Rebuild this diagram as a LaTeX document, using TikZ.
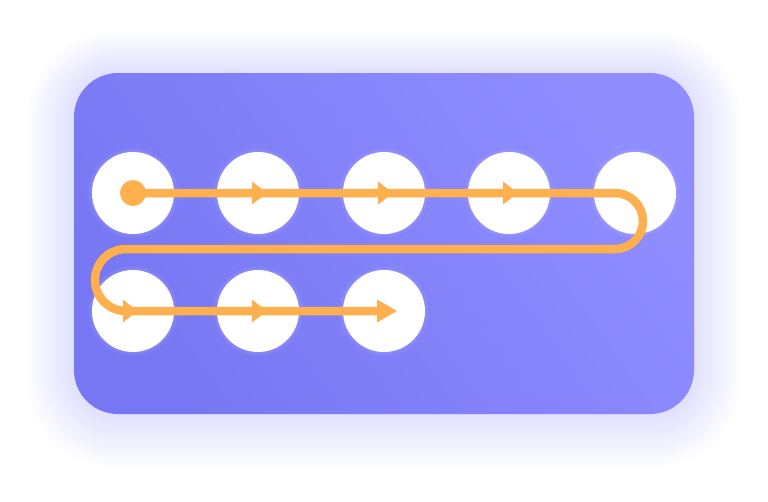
\documentclass[tikz,border=0pt]{standalone}
\usetikzlibrary{calc}
\definecolor{cardL}{HTML}{7777F3}
\definecolor{cardR}{HTML}{8F8DFF}
\definecolor{glow}{HTML}{8A88FF}
\definecolor{path}{HTML}{FFB04E}
\tikzset{
  dotnode/.style={circle,fill=white,minimum size=82pt,inner sep=0pt},
  route/.style={draw=path,line width=8.5pt},
  tipfill/.style={fill=path},
}
\newcommand{\tipat}[3]{% node, back offset, tip offset
  \fill[tipfill] ($(#1)+(#2,-11.5)$) -- ($(#1)+(#3,0)$) -- ($(#1)+(#2,11.5)$) -- cycle;}
\begin{document}
\begin{tikzpicture}[x=1pt,y=-1pt]
\useasboundingbox (0,0) rectangle (768,501);
\fill[white] (0,0) rectangle (768,501);
% glow
\foreach \i in {1,...,30}{
  \fill[glow,opacity=0.006,rounded corners={44+\i*1.5}] ({74-\i*1.6},{73-\i*1.4}) rectangle ({694+\i*1.6},{414+\i*1.8});
}
\shade[top color=cardR,bottom color=cardL,shading angle=-55,rounded corners=44] (74,73) rectangle (694,414);
% circle halos
\foreach \x/\y in {133/193,258/193,384/193,509/193,635/193,133/311,258/311,384/311}{
  \foreach \r in {42,43.5,45}{
    \fill[white,opacity=0.04] (\x,\y) circle (\r);
  }
}
% circles
\node[dotnode] (c1) at (133,193) {};
\node[dotnode] (c2) at (258,193) {};
\node[dotnode] (c3) at (384,193) {};
\node[dotnode] (c4) at (509,193) {};
\node[dotnode] (c5) at (635,193) {};
\node[dotnode] (c6) at (133,311) {};
\node[dotnode] (c7) at (258,311) {};
\node[dotnode] (c8) at (384,311) {};
% turn coordinates
\coordinate (t1) at (615,193);
\coordinate (t2) at (615,249);
\coordinate (t3) at (126,249);
\coordinate (t4) at (126,311);
\coordinate (e) at (380,311);
% soft shadow
\draw[line width=8pt,black,opacity=0.06,shift={(0,3)}]
  (c1.center) -- (t1) arc[start angle=-90,end angle=90,radius=28] -- (t3)
  arc[start angle=-90,end angle=-270,radius=31] -- (e);
% route
\draw[route]
  (c1.center) -- (t1) arc[start angle=-90,end angle=90,radius=28] -- (t3)
  arc[start angle=-90,end angle=-270,radius=31] -- (e);
\fill[path] (c1.center) circle (13);
\tipat{c2}{-6}{9}
\tipat{c3}{-6}{9}
\tipat{c4}{-6}{9}
\tipat{c6}{-10}{4}
\tipat{c7}{-6}{9}
\tipat{c8}{-7}{13}
\end{tikzpicture}
\end{document}
